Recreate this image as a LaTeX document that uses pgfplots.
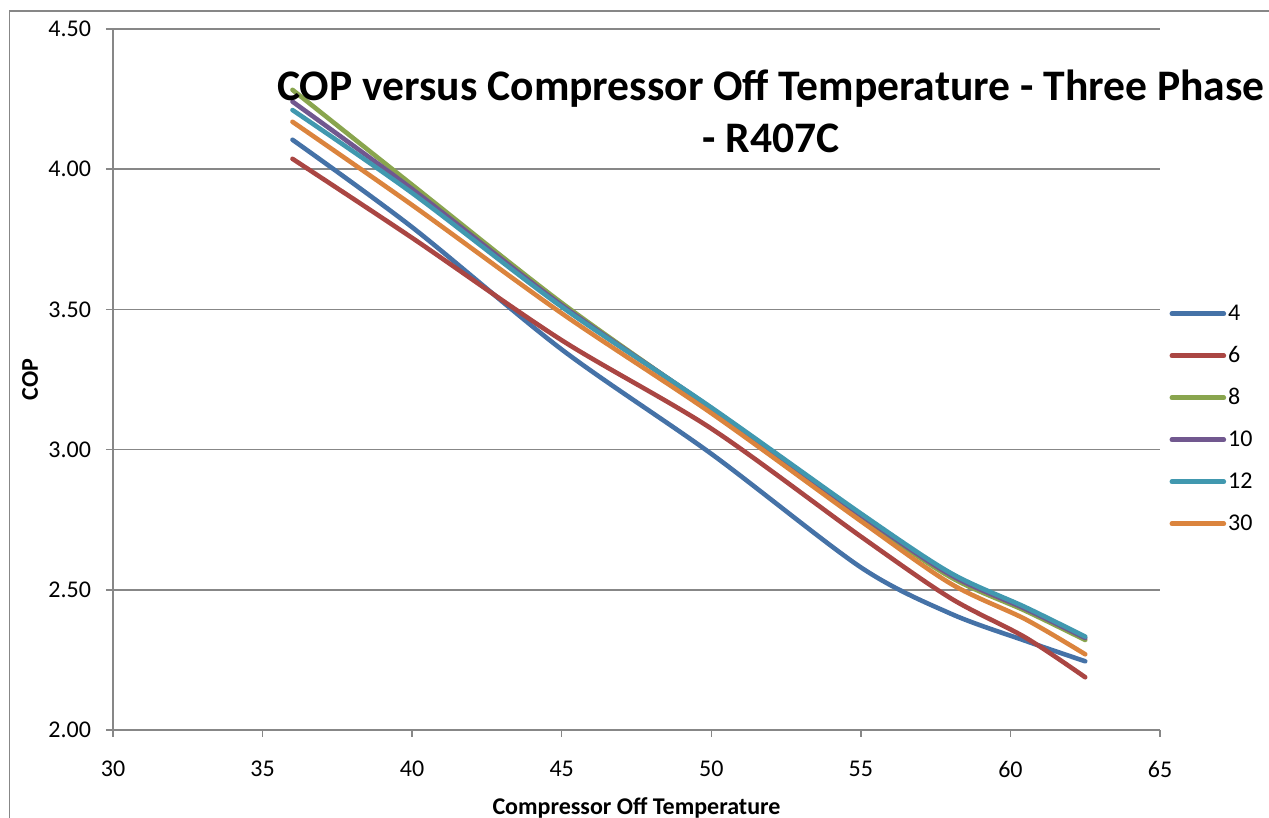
\documentclass[border=0pt]{standalone}
\usepackage{pgfplots}
\pgfplotsset{compat=1.18}
\usepackage{pgfplotstable}
\usepackage{fontspec}
\setmainfont{Carlito}
\definecolor{cBlue}{HTML}{4572A7}
\definecolor{cRed}{HTML}{AA4643}
\definecolor{cGreen}{HTML}{89A54E}
\definecolor{cPurple}{HTML}{71588F}
\definecolor{cTeal}{HTML}{4198AF}
\definecolor{cOrange}{HTML}{DB843D}
\definecolor{cGrid}{HTML}{878787}
\pgfplotstableread{
x    s4    s6    s8    s10   s12   s30
36   4.105 4.037 4.283 4.241 4.211 4.169
40   3.793 3.755 3.944 3.929 3.915 3.872
45   3.357 3.390 3.523 3.515 3.509 3.486
50   2.985 3.075 3.145 3.148 3.150 3.130
55   2.580 2.690 2.760 2.766 2.772 2.745
58   2.415 2.470 2.545 2.553 2.560 2.522
60.5 2.318 2.330 2.425 2.432 2.438 2.395
62.5 2.245 2.188 2.321 2.328 2.333 2.270
}\datatable
\begin{document}
\begin{tikzpicture}
\useasboundingbox (0,0) rectangle (634.5pt,409pt);
\draw[cGrid, line width=0.75pt] (4.75pt,0) -- (4.75pt,403.5pt) -- (634.5pt,403.5pt);
\begin{axis}[
  at={(56.5pt,44pt)}, anchor=south west,
  scale only axis, width=523.5pt, height=350.5pt,
  xmin=30, xmax=65, ymin=2, ymax=4.5,
  xtick={30,35,...,65}, ytick={2,2.5,...,4.5},
  axis x line=bottom, axis y line=left,
  axis line style={cGrid, line width=0.75pt, -},
  tick style={cGrid, line width=0.75pt},
  tick align=outside, major tick length=3.5pt,
  ymajorgrids, grid style={cGrid, line width=0.75pt},
  /pgf/number format/assume math mode=true,
  yticklabel style={/pgf/number format/.cd, fixed, fixed zerofill, precision=2, /tikz/.cd, xshift=-4pt},
  xticklabel style={yshift=-8.5pt},
  ticklabel style={font=\fontsize{12}{14}\selectfont},
  xlabel={Compressor Off Temperature},
  ylabel={COP},
  xlabel style={at={(axis description cs:0.5,-0.111)}, anchor=center, font=\bfseries\fontsize{12}{14}\selectfont},
  ylabel style={at={(axis description cs:-0.0793,0.5)}, anchor=center, rotate=0, font=\bfseries\fontsize{12}{14}\selectfont},
  legend style={at={(axis description cs:1.003,0.615)}, anchor=north west, draw=none, fill=none,
    font=\fontsize{12}{14}\selectfont, row sep=10.5pt,
    nodes={inner sep=1pt, text height=7.5pt, text depth=1pt}},
  legend cell align=left,
  legend image code/.code={\draw[#1, line cap=round] (0pt,0pt) -- (26pt,0pt);},
  every axis plot/.append style={line width=2.3pt, line cap=round, line join=round, smooth, tension=0.5},
  clip=false,
]
\addplot[cBlue] table[x=x, y=s4] {\datatable};
\addplot[cRed] table[x=x, y=s6] {\datatable};
\addplot[cGreen] table[x=x, y=s8] {\datatable};
\addplot[cPurple] table[x=x, y=s10] {\datatable};
\addplot[cTeal] table[x=x, y=s12] {\datatable};
\addplot[cOrange] table[x=x, y=s30] {\datatable};
\legend{4,6,8,10,12,30}
\node[align=center, font=\bfseries\fontsize{21.8}{26}\selectfont] at (axis description cs:0.6285,0.883) {COP versus Compressor Off Temperature - Three Phase\\- R407C};
\end{axis}
\end{tikzpicture}
\end{document}
